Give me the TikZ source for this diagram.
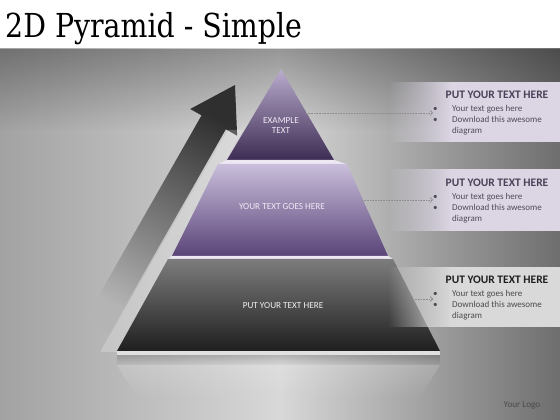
\documentclass[tikz,border=0pt]{standalone}
\usepackage{fontspec}
\usepackage{graphicx}
\setmainfont{Carlito}
\newfontfamily\titlefont{DejaVu Serif}
\usetikzlibrary{fadings,arrows.meta}
\definecolor{bgL}{HTML}{A2A2A2}
\definecolor{bgM}{HTML}{D8D8D8}
\definecolor{bgR}{HTML}{6E6E6E}
\definecolor{arrowDark}{HTML}{2F2F2F}
\definecolor{arrowMid}{HTML}{5E5E5E}
\definecolor{arrowEnd}{HTML}{B4B4B4}
\definecolor{topA}{HTML}{B9ACCD}
\definecolor{topB}{HTML}{3D2C53}
\definecolor{midA}{HTML}{C9BEDB}
\definecolor{midB}{HTML}{5A4478}
\definecolor{botA}{HTML}{7C7C7C}
\definecolor{botB}{HTML}{1F1F1F}
\definecolor{stripP}{HTML}{EDE8F2}
\definecolor{stripG}{HTML}{E0E0E0}
\definecolor{boxP}{HTML}{DCD6E4}
\definecolor{boxG}{HTML}{D9D9D9}
\definecolor{headP}{HTML}{4A4058}
\definecolor{textP}{HTML}{4F4A5A}
\definecolor{headG}{HTML}{1E1E1E}
\definecolor{textG}{HTML}{4A4A4A}
\definecolor{connC}{HTML}{8C8C8C}
\definecolor{lblC}{HTML}{EFEAF3}
\tikzfading[name=fadedown, top color=transparent!0, bottom color=transparent!100]
\tikzfading[name=fadein, left color=transparent!100, right color=transparent!0]
\tikzset{
  lbl/.style={text=lblC, font=\fontsize{9.2}{10.7}\selectfont, inner sep=0pt, align=center},
  head/.style={font=\bfseries\fontsize{11.5}{13}\selectfont, inner sep=0pt, anchor=base},
  bul/.style={font=\fontsize{9}{11}\selectfont, inner sep=0pt, anchor=base west},
  conn/.style={draw=connC, densely dotted, line width=0.6pt, -{Straight Barb[length=2.5pt,width=5pt]}},
}
\newcommand{\bultext}{\begin{tabular}[t]{@{}p{19pt}@{}l@{}}\textbullet & Your text goes here\\ \textbullet & Download this awesome\\ & diagram\end{tabular}}
\begin{document}
\begin{tikzpicture}[x=1pt,y=1pt]
\useasboundingbox (0,0) rectangle (560,420);
\fill[white] (0,0) rectangle (560,420);
% background
\shade[left color=bgL, right color=bgR, middle color=bgM] (0,0) rectangle (560,371);
\fill[black, opacity=0.3, path fading=fadedown] (0,290) rectangle (560,371);
% title
\node[anchor=base west, inner sep=0pt] (title) at (5,382.7)
  {\scalebox{0.86}[1]{\titlefont\fontsize{33}{36}\selectfont 2D Pyramid - Simple}};
% arrow
\begin{scope}[shift={(235,335)}, rotate=60.3]
  \shade[top color=arrowDark, middle color=arrowMid, bottom color=arrowEnd, shading angle=-29.7]
    (0,0) -- (-43,27) -- (-43,14) -- (-278,14) -- (-278,-14) -- (-43,-14) -- (-43,-27) -- cycle;
\end{scope}
% light band along pyramid edge
\fill[white, opacity=0.22] (228,290) -- (243,290) -- (117,68) -- (100,68) -- cycle;
% reflection under pyramid
\fill[black, opacity=0.16, path fading=fadedown] (117,65) rectangle (440,55);
\fill[white, opacity=0.16, path fading=fadedown] (117,55) -- (440,55) -- (420,22) -- (137,22) -- cycle;
% pyramid layers
\shade[top color=topA, bottom color=topB] (281,351) -- (334,260) -- (227,260) -- cycle;
\fill[stripP] (227,260) -- (334,260) -- (346,256) -- (219,256) -- cycle;
\shade[top color=midA, bottom color=midB] (218,256) -- (347,256) -- (388,164) -- (172,164) -- cycle;
\fill[stripP] (172,164) -- (388,164) -- (393,161) -- (168,161) -- cycle;
\shade[top color=botA, bottom color=botB] (168,161) -- (393,161) -- (440,69) -- (117,69) -- cycle;
\fill[stripG] (117,69) rectangle (440,65);
% layer labels
\node[lbl] (t1) at (281,294.4) {EXAMPLE\\TEXT};
\node[lbl, anchor=base] (t2) at (282,210) {YOUR TEXT GOES HERE};
\node[lbl, anchor=base, text=white!88!gray] (t3) at (283,111.7) {PUT YOUR TEXT HERE};
% text boxes
\fill[boxP, path fading=fadein] (388,278) rectangle (451,338);
\fill[boxP] (450,278) rectangle (560,338);
\fill[boxP, path fading=fadein] (388,189) rectangle (451,251);
\fill[boxP] (450,189) rectangle (560,251);
\fill[boxG, path fading=fadein] (388,93) rectangle (451,153);
\fill[boxG] (450,93) rectangle (560,153);
\node[head, text=headP] (h1) at (497,321.7) {PUT YOUR TEXT HERE};
\node[bul, text=textP] (b1) at (433,308.7) {\bultext};
\node[head, text=headP] (h2) at (497,233) {PUT YOUR TEXT HERE};
\node[bul, text=textP] (b2) at (433,220.3) {\bultext};
\node[head, text=headG] (h3) at (497,136) {PUT YOUR TEXT HERE};
\node[bul, text=textG] (b3) at (433,123.7) {\bultext};
% connectors
\coordinate (c1a) at (306,307);
\coordinate (c1b) at (433,307);
\coordinate (c2a) at (362,220);
\coordinate (c2b) at (433,220);
\coordinate (c3a) at (413,121);
\coordinate (c3b) at (433,121);
\draw[conn] (c1a) -- (c1b);
\draw[conn] (c2a) -- (c2b);
\draw[conn] (c3a) -- (c3b);
% logo
\node[anchor=base, inner sep=0pt, text=textG, font=\fontsize{9.2}{11}\selectfont] (logo) at (522,12) {Your Logo};
\end{tikzpicture}
\end{document}
